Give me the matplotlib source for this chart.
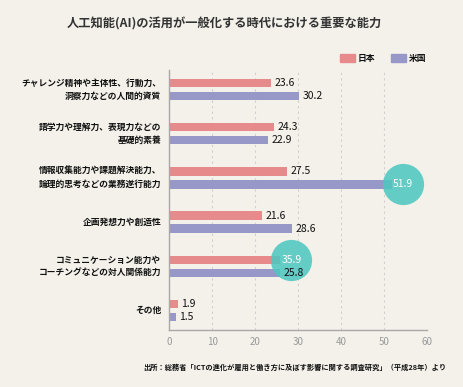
import matplotlib
matplotlib.use("Agg")
import matplotlib.pyplot as plt
import numpy as np

plt.rcParams['font.family'] = ['Noto Sans CJK JP', 'DejaVu Sans']

categories = ['チャレンジ精神や主体性、行動力、\n洞察力などの人間的資質',
              '語学力や理解力、表現力などの\n基礎的素養',
              '情報収集能力や課題解決能力、\n論理的思考などの業務遂行能力',
              '企画発想力や創造性',
              'コミュニケーション能力や\nコーチングなどの対人関係能力',
              'その他']
japan = [23.6, 24.3, 27.5, 21.6, 35.9, 1.9]
usa = [30.2, 22.9, 51.9, 28.6, 25.8, 1.5]
# the reference draws the 35.9 bar only as long as ~25.8
japan_bar = [23.6, 24.3, 27.5, 21.6, 25.8, 1.9]
usa_bar = usa
highlight_jp = [False, False, False, False, True, False]
highlight_us = [False, False, True, False, False, False]
xticks = [0, 10, 20, 30, 40, 50, 60]

bg = '#f4f1ea'
c_jp = '#e78a8b'
c_us = '#9797c8'
c_hi = '#4ec7c0'

fig = plt.figure(figsize=(4.64, 3.87), dpi=100, facecolor=bg)
ax = fig.add_axes([0.3653, 0.147, 0.5547, 0.672], facecolor=bg)

y = np.arange(len(categories))
off = 0.147
h = 0.19
ax.barh(y - off, japan_bar, height=h, color=c_jp, zorder=2)
ax.barh(y + off, usa_bar, height=h, color=c_us, zorder=2)

def put_labels(ypos, vals, bars, hi):
    for yy, v, b, flag in zip(ypos, vals, bars, hi):
        if flag:
            cx = b + 2.6
            ax.scatter([cx], [yy], s=880, color=c_hi, alpha=0.88, zorder=3,
                       linewidths=0)
            ax.text(cx, yy, '%.1f' % v, color='white', fontsize=7.5,
                    ha='center', va='center', zorder=4)
        else:
            ax.annotate('%.1f' % v, (b, yy), xytext=(2.5, 0), textcoords='offset points',
                        ha='left', va='center', fontsize=7.5, color='#111111', zorder=4)

put_labels(y - off, japan, japan_bar, highlight_jp)
put_labels(y + off, usa, usa_bar, highlight_us)

ax.set_xlim(0, 60)
ax.set_ylim(5.44, -0.44)
ax.set_xticks(xticks)
ax.set_xticklabels([str(t) for t in xticks], fontsize=7, color='#9a9a9a')
ax.tick_params(axis='x', length=0, pad=5)
ax.set_yticks([])
for xt in xticks[1:]:
    ax.axvline(xt, color='#cfcfcf', lw=0.8, ls=(0, (2, 3)), zorder=1)

for s in ['top', 'right']:
    ax.spines[s].set_visible(False)
ax.spines['left'].set_color('#a8a8a8')
ax.spines['bottom'].set_color('#a8a8a8')
ax.spines['left'].set_linewidth(1)
ax.spines['bottom'].set_linewidth(1)

for yy, cat in zip(y, categories):
    ax.annotate(cat, (0, yy), xytext=(-6, 0), textcoords='offset points',
                ha='right', va='center', fontsize=6.3, fontweight='bold',
                color='#111111', linespacing=1.55)

fig.text(224 / 464, 1 - 24 / 387, '人工知能(AI)の活用が一般化する時代における重要な能力',
         ha='center', va='center', fontsize=8.8, fontweight='bold', color='#333333')

# legend
for x0, col, lab in [(340, c_jp, '日本'), (391, c_us, '米国')]:
    fig.patches.append(plt.Rectangle((x0 / 464, 1 - 62 / 387), 15 / 464, 8 / 387,
                                     transform=fig.transFigure, color=col, figure=fig))
    fig.text((x0 + 18) / 464, 1 - 58 / 387, lab, ha='left', va='center',
             fontsize=6.3, fontweight='bold', color='#111111')

fig.text(446 / 464, 1 - 367 / 387,
         '出所：総務省「ICTの進化が雇用と働き方に及ぼす影響に関する調査研究」（平成28年）より',
         ha='right', va='center', fontsize=5.2, fontweight='bold', color='#111111')

fig.savefig('out.png', dpi=100, facecolor=bg)
